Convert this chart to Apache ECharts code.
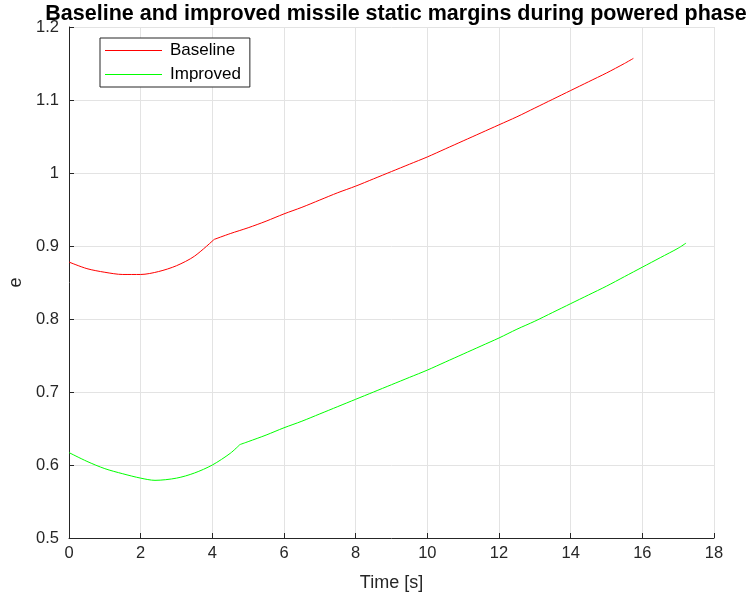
<!DOCTYPE html>
<html>
<head>
<meta charset="utf-8">
<script src="https://cdn.jsdelivr.net/npm/echarts@6/dist/echarts.min.js"></script>
<style>html,body{margin:0;padding:0;background:#fff}#c{width:751px;height:605px}</style>
</head>
<body>
<div id="c"></div>
<script>
const baselineTime = [0,0.5,1,1.5,2,2.5,3,3.5,4.05,4.5,5,5.5,6,6.5,7,7.5,8,8.5,9,9.5,10,10.5,11,11.5,12,12.5,13,13.5,14,14.5,15,15.5,15.75];
const baselineE = [0.878,0.869,0.864,0.861,0.861,0.865,0.873,0.886,0.909,0.917,0.925,0.934,0.944,0.953,0.963,0.973,0.982,0.992,1.002,1.012,1.022,1.033,1.044,1.055,1.066,1.077,1.089,1.101,1.113,1.125,1.137,1.150,1.157];
const improvedTime = [0,0.5,1,1.5,2,2.4,3,3.5,4,4.5,4.77,5,5.5,6,6.5,7,7.5,8,8.5,9,9.5,10,10.5,11,11.5,12,12.5,13,13.5,14,14.5,15,15.5,16,16.5,17,17.22];
const improvedE = [0.617,0.605,0.595,0.588,0.582,0.579,0.582,0.589,0.600,0.616,0.628,0.632,0.641,0.651,0.660,0.670,0.680,0.690,0.700,0.710,0.720,0.730,0.741,0.752,0.763,0.774,0.786,0.797,0.809,0.821,0.833,0.845,0.858,0.871,0.884,0.897,0.904];
const baselineKinkTime = 4.05;
const improvedKinkTime = 4.77;
const titleText = 'Baseline and improved missile static margins during powered phase';

const pair = (xs, ys) => xs.map((x, i) => [x, ys[i]]);
const before = (d, k) => d.filter(p => p[0] <= k);
const after = (d, k) => d.filter(p => p[0] >= k);
const font = 'Liberation Sans, Arial, Helvetica, sans-serif';
const bData = pair(baselineTime, baselineE);
const iData = pair(improvedTime, improvedE);
const mk = (name, data, color) => ({
  name, type: 'line', data, showSymbol: false, symbol: 'none', smooth: 0.3,
  lineStyle: {color, width: 1}, itemStyle: {color}
});
const chart = echarts.init(document.getElementById('c'), null, {renderer: 'canvas'});
chart.setOption({
  animation: false,
  backgroundColor: '#fff',
  title: {
    text: titleText, left: 391, textAlign: 'center', top: -2,
    textStyle: {fontFamily: font, fontSize: 21.5, fontWeight: 'bold', color: '#000'}
  },
  grid: {left: 69, right: 37, top: 27, bottom: 67, containLabel: false, outerBoundsMode: 'none'},
  legend: {
    left: 100, top: 38, orient: 'vertical', itemWidth: 57, itemHeight: 1, itemGap: 7,
    icon: 'path://M0,0 L57,0 L57,1 L0,1 Z',
    padding: [4, 9, 4, 5], borderColor: '#262626', borderWidth: 1, backgroundColor: '#fff',
    textStyle: {fontFamily: font, fontSize: 17, color: '#000', padding: [0, 0, 0, 3], lineHeight: 17},
    data: [{name: 'Baseline', itemStyle: {color: '#ff0000'}}, {name: 'Improved', itemStyle: {color: '#00ff00'}}]
  },
  xAxis: {
    type: 'value', min: 0, max: 18, interval: 2,
    name: 'Time [s]', nameLocation: 'middle', nameGap: 36,
    nameTextStyle: {fontFamily: font, fontSize: 18, color: '#262626'},
    axisLine: {show: true, onZero: false, lineStyle: {color: '#262626', width: 1}},
    axisTick: {show: true, inside: true, length: 5, lineStyle: {color: '#262626'}},
    axisLabel: {fontFamily: font, fontSize: 16.5, color: '#262626', margin: 7},
    splitLine: {show: true, lineStyle: {color: '#e3e3e3', width: 1}}
  },
  yAxis: {
    type: 'value', min: 0.5, max: 1.2, interval: 0.1,
    name: 'e', nameLocation: 'middle', nameGap: 44, nameRotate: 90,
    nameTextStyle: {fontFamily: font, fontSize: 18, color: '#262626'},
    axisLine: {show: true, lineStyle: {color: '#262626', width: 1}},
    axisTick: {show: true, inside: true, length: 5, lineStyle: {color: '#262626'}},
    axisLabel: {fontFamily: font, fontSize: 16.5, color: '#262626', margin: 10,
      formatter: v => String(Math.round(v * 10) / 10)},
    splitLine: {show: true, lineStyle: {color: '#e3e3e3', width: 1}}
  },
  series: [
    mk('Baseline', before(bData, baselineKinkTime), '#ff0000'),
    mk('Baseline', after(bData, baselineKinkTime), '#ff0000'),
    mk('Improved', before(iData, improvedKinkTime), '#00ff00'),
    mk('Improved', after(iData, improvedKinkTime), '#00ff00')
  ]
});
</script>
</body>
</html>
